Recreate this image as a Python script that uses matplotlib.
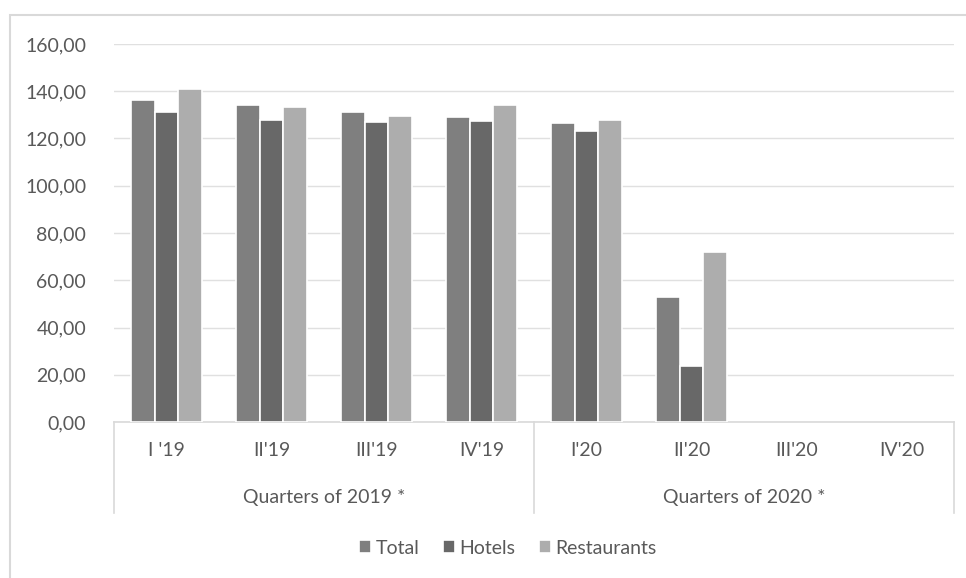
import numpy as np
import matplotlib.pyplot as plt
from matplotlib.patches import Rectangle
import matplotlib.transforms as mtransforms

quarters = ["I '19", "II'19", "III'19", "IV'19", "I'20", "II'20", "III'20", "IV'20"]
groups = ["Quarters of 2019 *", "Quarters of 2020 *"]
total = [136.3, 134.2, 131.2, 129.0, 126.6, 52.8, np.nan, np.nan]
hotels = [131.2, 128.0, 127.0, 127.6, 123.2, 23.6, np.nan, np.nan]
restaurants = [141.0, 133.4, 129.6, 134.0, 128.0, 72.0, np.nan, np.nan]
series = ["Total", "Hotels", "Restaurants"]
colors = ["#7f7f7f", "#686868", "#adadad"]

plt.rcParams['font.family'] = ['Lato', 'DejaVu Sans']
txt = "#595959"
fs = 14

W, H = 966, 578
fig = plt.figure(figsize=(W / 100, H / 100), dpi=100)
# chart border (only top and left edges are inside the picture)
fig.patches.append(Rectangle((10 / W, -0.1), 1.2, 1.1 - 15 / H, transform=fig.transFigure,
                             fill=False, edgecolor="#d9d9d9", linewidth=1.5))

x0, x1, ytop, ybot = 114, 954, 44, 422
ax = fig.add_axes([x0 / W, 1 - ybot / H, (x1 - x0) / W, (ybot - ytop) / H])

x = np.arange(len(quarters))
w = 0.224
for i, (vals, c, lab) in enumerate(zip([total, hotels, restaurants], colors, series)):
    ax.bar(x + (i - 1) * w, vals, width=w, color=c, edgecolor="white",
           linewidth=1.2, label=lab, zorder=3)

ax.set_xlim(-0.5, len(quarters) - 0.5)
ax.set_ylim(0, 160)
ax.set_yticks(np.arange(0, 161, 20))
ax.set_yticklabels([f"{v:.2f}".replace(".", ",") for v in np.arange(0, 161, 20)],
                   fontsize=fs, color=txt)
ax.tick_params(axis='y', length=0, pad=20)
ax.grid(axis='y', color="#e0e0e0", linewidth=1, zorder=0)
for s in ["top", "right", "left"]:
    ax.spines[s].set_visible(False)
ax.spines["bottom"].set_color("#d9d9d9")
ax.spines["bottom"].set_linewidth(1.2)
ax.set_xticks([])

# multi-level category axis
trans = mtransforms.blended_transform_factory(ax.transData, ax.transAxes)
px = 1 / (ybot - ytop)
for xs in [-0.5, 3.5, 7.5]:
    ax.plot([xs, xs], [0, -91 * px], transform=trans, color="#d9d9d9",
            linewidth=1.2, clip_on=False)
for xi, q in zip(x, quarters):
    ax.text(xi, -29 * px, q, transform=trans, ha="center", va="center",
            fontsize=fs, color=txt)
for gi, g in enumerate(groups):
    ax.text(1.5 + 4 * gi, -75 * px, g, transform=trans, ha="center", va="center",
            fontsize=fs, color=txt)

leg = fig.legend(loc="center", bbox_to_anchor=(508 / W, 1 - 548 / H), ncol=3,
                 frameon=False, fontsize=fs, handlelength=0.6, handleheight=0.6,
                 handletextpad=0.25, columnspacing=1.2)
for t in leg.get_texts():
    t.set_color(txt)

fig.savefig("out.png", dpi=100)
